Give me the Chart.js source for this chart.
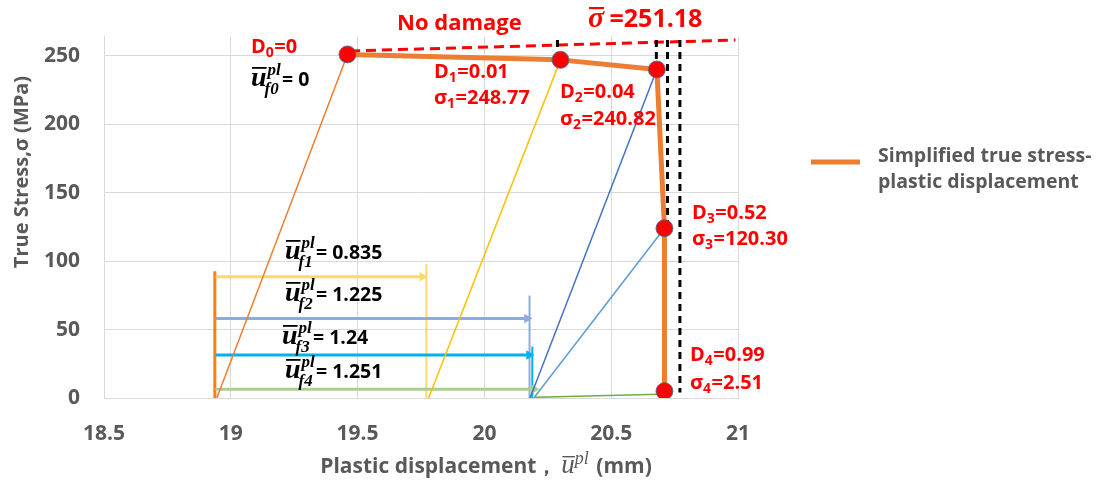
<!DOCTYPE html>
<html><head><meta charset="utf-8">
<script src="https://cdn.jsdelivr.net/npm/chart.js@4.4.1/dist/chart.umd.min.js"></script>
<style>html,body{margin:0;padding:0;background:#fff;} canvas{display:block;}</style>
</head><body>
<canvas id="c" width="1100" height="481"></canvas>
<script>
// ---- data ----
const xTicks = [18.5, 19, 19.5, 20, 20.5, 21];
const yTicks = [0, 50, 100, 150, 200, 250];
const damageIdx = ['0', '1', '2', '3', '4'];
const damageD = ['0', '0.01', '0.04', '0.52', '0.99'];
const damageSigma = ['', '248.77', '240.82', '120.30', '2.51'];
const curveX = [19.46, 20.30, 20.68, 20.71, 20.71];
const curveY = [251, 247, 240, 124, 5];
const unloadX0 = [18.945, 19.78, 20.18, 20.195, 20.20];
const unloadY0 = [0, 0, 0, 0, 0.5];
const unloadX1 = [19.46, 20.30, 20.68, 20.71, 20.69];
const unloadY1 = [251, 247, 240, 124, 2.8];
const arrowStartX = 18.94;
const arrowEndX = [19.765, 20.178, 20.186, 20.206];
const arrowY = [88.6, 58, 31.4, 6.4];
const ufIdx = ['f1', 'f2', 'f3', 'f4'];
const ufValues = ['0.835', '1.225', '1.24', '1.251'];
const barX = [18.937, 19.771, 20.178, 20.189];
const barTop = [92.6, 97.8, 74.8, 37.4];
const dashX = [20.288, 20.678, 20.722, 20.771];
const dashTop = [261.5, 261.5, 261.5, 261.5];
const dashBottom = [247, 241, 124, 4];
const sigmaLineX = [19.47, 20.99];
const sigmaLineY = [253.5, 261.5];
const sigmaBar = '251.18';

// ---- styles ----
const unloadColors = ['#ED7D31', '#FFC000', '#4472C4', '#5B9BD5', '#70AD47'];
const arrowColors = ['#FFD966', '#8FAADC', '#00B0F0', '#A9D18E'];
const barColors = ['#FF7F0E', '#FFD966', '#8FAADC', '#00B0F0'];
const SANS = '"Open Sans", Lato, sans-serif';
const SERIF = '"Liberation Serif", "DejaVu Serif", serif';
const GRAY = '#595959';

const datasets = [];
datasets.push({
  label: 'points', data: curveX.map((x, i) => ({x, y: curveY[i]})),
  showLine: false, pointRadius: 8.5, pointBackgroundColor: '#FF0000',
  pointBorderColor: '#41719C', pointBorderWidth: 0.8, order: 0
});
datasets.push({
  label: 'Simplified true stress-plastic displacement',
  data: curveX.map((x, i) => ({x, y: curveY[i]})),
  showLine: true, borderColor: '#ED7D31', borderWidth: 5, pointRadius: 0, order: 1,
  borderJoinStyle: 'round'
});
dashX.forEach((x, i) => datasets.push({
  label: 'dash' + i, data: [{x, y: dashTop[i]}, {x, y: dashBottom[i]}],
  showLine: true, borderColor: '#000', borderWidth: 3, borderDash: [7, 5], pointRadius: 0, order: 2
}));
datasets.push({
  label: 'sigma', data: sigmaLineX.map((x, i) => ({x, y: sigmaLineY[i]})),
  showLine: true, borderColor: '#FF0000', borderWidth: 3, borderDash: [10, 6], pointRadius: 0, order: 2
});
unloadX0.forEach((x, i) => datasets.push({
  label: 'unload' + i, data: [{x, y: unloadY0[i]}, {x: unloadX1[i], y: unloadY1[i]}],
  showLine: true, borderColor: unloadColors[i], borderWidth: 1.5, pointRadius: 0, order: 3
}));
arrowEndX.forEach((x, i) => datasets.push({
  label: 'arrow' + i, data: [{x: arrowStartX, y: arrowY[i]}, {x: x - 0.01, y: arrowY[i]}],
  showLine: true, borderColor: arrowColors[i], borderWidth: 3,
  pointRadius: [0, 5.5], pointStyle: 'triangle', rotation: 90,
  pointBackgroundColor: arrowColors[i], pointBorderColor: arrowColors[i], pointBorderWidth: 0, order: 4
}));
barX.forEach((x, i) => datasets.push({
  label: 'bar' + i, data: [{x, y: 0}, {x, y: barTop[i]}],
  showLine: true, borderColor: barColors[i], borderWidth: i === 0 ? 3 : 2, pointRadius: 0, order: 4
}));

function redLabel(ctx, x, cy, letter, idx, value) {
  const base = cy + 7;
  ctx.fillStyle = '#FF0000';
  ctx.font = 'bold 20px ' + SANS;
  ctx.fillText(letter, x, base);
  const w = ctx.measureText(letter).width;
  ctx.font = 'bold 14px ' + SANS;
  ctx.fillText(idx, x + w, base + 4);
  const w2 = ctx.measureText(idx).width;
  ctx.font = 'bold 20px ' + SANS;
  ctx.fillText('=' + value, x + w + w2 + 0.5, base);
}
function uLabel(ctx, x, base, idx, value) {
  ctx.fillStyle = '#000';
  ctx.font = 'bold italic 28px ' + SERIF;
  ctx.fillText('u', x, base);
  const uw = ctx.measureText('u').width;
  ctx.fillRect(x + 1, base - 19, uw - 1, 1.8);
  ctx.font = 'bold italic 17px ' + SERIF;
  ctx.fillText('pl', x + uw + 1, base - 11);
  ctx.fillText(idx, x + uw - 2, base + 8);
  ctx.font = 'bold 19.5px ' + SANS;
  ctx.fillText('= ' + value, x + 31, base);
}

const textPlugin = {
  id: 'texts',
  afterDraw(chart) {
    const ctx = chart.ctx;
    ctx.save();
    ctx.textBaseline = 'alphabetic';
    ctx.textAlign = 'left';
    const dPos = [[251, 46], [434, 71], [560, 91], [692, 212], [690, 354]];
    const sPos = [null, [434, 97], [560, 118], [692, 238], [690, 382]];
    damageIdx.forEach((k, i) => {
      redLabel(ctx, dPos[i][0], dPos[i][1], 'D', k, damageD[i]);
      if (sPos[i]) redLabel(ctx, sPos[i][0], sPos[i][1], 'σ', k, damageSigma[i]);
    });
    uLabel(ctx, 251, 86, 'f0', '0');
    const uPos = [[285, 259], [285, 301], [282, 344], [285, 378]];
    ufIdx.forEach((k, i) => uLabel(ctx, uPos[i][0], uPos[i][1], k, ufValues[i]));
    ctx.fillStyle = '#FF0000';
    ctx.font = 'bold 22px ' + SANS;
    ctx.fillText('No damage', 397, 30);
    ctx.font = 'bold italic 30px ' + SERIF;
    ctx.fillText('σ', 588, 27);
    ctx.fillRect(589, 7, 15, 2.2);
    ctx.font = 'bold 25px ' + SANS;
    ctx.fillText(' =' + sigmaBar, 603, 27);
    // legend
    ctx.strokeStyle = '#ED7D31';
    ctx.lineWidth = 5;
    ctx.beginPath(); ctx.moveTo(811, 162); ctx.lineTo(860, 162); ctx.stroke();
    ctx.fillStyle = GRAY;
    ctx.font = 'bold 19.5px ' + SANS;
    ctx.fillText('Simplified true stress-', 878, 162);
    ctx.fillText('plastic displacement', 878, 188);
    // x title
    ctx.font = 'bold 21px ' + SANS;
    const p1 = 'Plastic displacement，';
    const w1 = ctx.measureText(p1).width;
    ctx.font = 'italic 27px ' + SERIF;
    const wu = ctx.measureText('u').width;
    ctx.font = 'italic 18px ' + SERIF;
    const wpl = ctx.measureText('pl').width;
    ctx.font = 'bold 21px ' + SANS;
    const p3 = ' (mm)';
    const w3 = ctx.measureText(p3).width;
    const total = w1 + 4 + wu + wpl + 2 + w3;
    let x = 486 - total / 2;
    const b = 473;
    ctx.fillText(p1, x, b); x += w1 + 4;
    ctx.font = 'italic 27px ' + SERIF;
    ctx.fillText('u', x, b);
    ctx.fillRect(x + 1, b - 17, wu - 1, 1.4);
    x += wu;
    ctx.font = 'italic 18px ' + SERIF;
    ctx.fillText('pl', x, b - 9); x += wpl + 2;
    ctx.font = 'bold 21px ' + SANS;
    ctx.fillText(p3, x, b);
    // y title
    ctx.save();
    ctx.translate(28, 172);
    ctx.rotate(-Math.PI / 2);
    ctx.textAlign = 'center';
    ctx.font = 'bold 20px ' + SANS;
    ctx.fillText('True Stress,σ (MPa)', 0, 0);
    ctx.restore();
    ctx.restore();
  }
};

new Chart(document.getElementById('c'), {
  type: 'scatter',
  data: { datasets },
  plugins: [textPlugin],
  options: {
    responsive: false,
    animation: false,
    layout: { padding: { left: 0, top: 29, right: 362, bottom: 0 } },
    plugins: { legend: { display: false }, tooltip: { enabled: false } },
    scales: {
      x: {
        type: 'linear', min: 18.5, max: 21,
        afterBuildTicks: s => { s.ticks = xTicks.map(v => ({ value: v })); },
        afterFit: s => { s.height = 83; },
        grid: { color: '#D9D9D9', lineWidth: 1, drawTicks: false },
        border: { color: '#D9D9D9', width: 1 },
        ticks: { color: GRAY, font: { family: SANS, size: 21, weight: 'bold' }, padding: 23,
                 callback: v => String(v), maxRotation: 0 }
      },
      y: {
        type: 'linear', min: 0, max: 264,
        afterBuildTicks: s => { s.ticks = yTicks.map(v => ({ value: v })); },
        afterFit: s => { s.width = 104; },
        grid: { color: '#D9D9D9', lineWidth: 1, drawTicks: false },
        border: { color: '#D9D9D9', width: 1 },
        ticks: { color: GRAY, font: { family: SANS, size: 21, weight: 'bold' }, padding: 24,
                 callback: v => String(v) }
      }
    }
  }
});
</script>
</body></html>
